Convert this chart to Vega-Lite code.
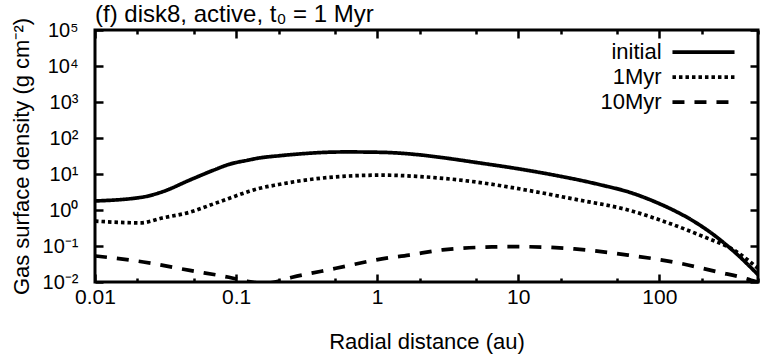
{
  "$schema": "https://vega.github.io/schema/vega-lite/v6.json",
  "width": 663,
  "height": 252,
  "autosize": "none",
  "padding": {"left": 95, "top": 30, "right": 3, "bottom": 74},
  "background": "white",
  "config": {
    "font": "Liberation Sans",
    "view": {"stroke": "black", "strokeWidth": 3},
    "axis": {"domain": false, "grid": false, "tickColor": "black", "tickWidth": 2.5, "labelColor": "black", "titleColor": "black", "labelFont": "Liberation Sans", "titleFont": "Liberation Sans", "labelFontSize": 21, "titleFontSize": 22, "titleFontWeight": "normal", "labelFlush": false, "labelOverlap": false}
  },
  "title": {"text": "(f) disk8, active, t₀ = 1 Myr", "anchor": "start", "frame": "group", "fontSize": 24, "fontWeight": "normal", "color": "black", "font": "Liberation Sans", "offset": 4, "dy": 14},
  "data": {"values": [
    {"t": "initial", "r": 0.01, "S": 1.78},
    {"t": "initial", "r": 0.022, "S": 2.3},
    {"t": "initial", "r": 0.03, "S": 3.2},
    {"t": "initial", "r": 0.047, "S": 6.8},
    {"t": "initial", "r": 0.07, "S": 13},
    {"t": "initial", "r": 0.089, "S": 18.5},
    {"t": "initial", "r": 0.12, "S": 24},
    {"t": "initial", "r": 0.147, "S": 28},
    {"t": "initial", "r": 0.2, "S": 32},
    {"t": "initial", "r": 0.28, "S": 36},
    {"t": "initial", "r": 0.4, "S": 39.5},
    {"t": "initial", "r": 0.6, "S": 41},
    {"t": "initial", "r": 1.08, "S": 40},
    {"t": "initial", "r": 2.0, "S": 34},
    {"t": "initial", "r": 3.0, "S": 28},
    {"t": "initial", "r": 5.0, "S": 21},
    {"t": "initial", "r": 11.3, "S": 12.9},
    {"t": "initial", "r": 20, "S": 8.6},
    {"t": "initial", "r": 27, "S": 6.8},
    {"t": "initial", "r": 40, "S": 4.8},
    {"t": "initial", "r": 60, "S": 3.2},
    {"t": "initial", "r": 98, "S": 1.55},
    {"t": "initial", "r": 125, "S": 1.0},
    {"t": "initial", "r": 160, "S": 0.6},
    {"t": "initial", "r": 233, "S": 0.23},
    {"t": "initial", "r": 347, "S": 0.064},
    {"t": "initial", "r": 500, "S": 0.016},
    {"t": "1Myr", "r": 0.01, "S": 0.49},
    {"t": "1Myr", "r": 0.021, "S": 0.44},
    {"t": "1Myr", "r": 0.03, "S": 0.6},
    {"t": "1Myr", "r": 0.047, "S": 0.87},
    {"t": "1Myr", "r": 0.07, "S": 1.5},
    {"t": "1Myr", "r": 0.089, "S": 2.1},
    {"t": "1Myr", "r": 0.124, "S": 3.3},
    {"t": "1Myr", "r": 0.147, "S": 4.0},
    {"t": "1Myr", "r": 0.2, "S": 5.1},
    {"t": "1Myr", "r": 0.28, "S": 6.4},
    {"t": "1Myr", "r": 0.63, "S": 8.8},
    {"t": "1Myr", "r": 1.08, "S": 9.3},
    {"t": "1Myr", "r": 1.9, "S": 8.6},
    {"t": "1Myr", "r": 5.0, "S": 6.0},
    {"t": "1Myr", "r": 11.3, "S": 3.6},
    {"t": "1Myr", "r": 25, "S": 2.0},
    {"t": "1Myr", "r": 60, "S": 1.0},
    {"t": "1Myr", "r": 115, "S": 0.44},
    {"t": "1Myr", "r": 200, "S": 0.19},
    {"t": "1Myr", "r": 347, "S": 0.072},
    {"t": "1Myr", "r": 500, "S": 0.024},
    {"t": "10Myr", "r": 0.01, "S": 0.053},
    {"t": "10Myr", "r": 0.022, "S": 0.036},
    {"t": "10Myr", "r": 0.047, "S": 0.021},
    {"t": "10Myr", "r": 0.089, "S": 0.0135},
    {"t": "10Myr", "r": 0.12, "S": 0.0105},
    {"t": "10Myr", "r": 0.15, "S": 0.0093},
    {"t": "10Myr", "r": 0.18, "S": 0.0097},
    {"t": "10Myr", "r": 0.25, "S": 0.0135},
    {"t": "10Myr", "r": 0.51, "S": 0.024},
    {"t": "10Myr", "r": 1.08, "S": 0.044},
    {"t": "10Myr", "r": 1.68, "S": 0.056},
    {"t": "10Myr", "r": 2.9, "S": 0.078},
    {"t": "10Myr", "r": 6.5, "S": 0.094},
    {"t": "10Myr", "r": 10, "S": 0.096},
    {"t": "10Myr", "r": 25, "S": 0.083},
    {"t": "10Myr", "r": 60, "S": 0.056},
    {"t": "10Myr", "r": 135, "S": 0.034},
    {"t": "10Myr", "r": 260, "S": 0.019},
    {"t": "10Myr", "r": 410, "S": 0.0125},
    {"t": "10Myr", "r": 500, "S": 0.0098}
  ]},
  "layer": [
    {
      "mark": {"type": "line", "stroke": "black", "strokeWidth": 3.7, "clip": true, "interpolate": "monotone", "strokeCap": "butt"},
      "encoding": {
        "x": {"field": "r", "type": "quantitative", "scale": {"type": "log", "domain": [0.01, 500], "nice": false},
          "axis": {"orient": "bottom", "title": "Radial distance (au)", "values": [0.01,0.02,0.05,0.1,0.2,0.5,1,2,5,10,20,50,100,200,500],
            "tickSize": {"condition": {"test": "abs(log(datum.value)/LN10 - round(log(datum.value)/LN10)) < 0.001", "value": -8}, "value": -4},
            "labelExpr": "abs(log(datum.value)/LN10 - round(log(datum.value)/LN10)) < 0.001 ? toString(datum.value) : ''",
            "labelPadding": 12, "titlePadding": 20}},
        "y": {"field": "S", "type": "quantitative", "scale": {"type": "log", "domain": [0.01, 100000], "nice": false},
          "axis": {"orient": "left", "title": "Gas surface density (g cm⁻²)", "values": [0.01,0.1,1,10,100,1000,10000,100000], "tickSize": -8, "labelFontSize": 20,
            "labelExpr": "['10⁻²','10⁻¹','10⁰','10¹','10²','10³','10⁴','10⁵'][round(log(datum.value)/LN10)+2]",
            "labelPadding": 25, "titlePadding": 9}},
        "strokeDash": {"field": "t", "type": "nominal", "scale": {"domain": ["initial", "1Myr", "10Myr"], "range": [[1, 0], [3.5, 3], [12, 10]]},
          "legend": {"orient": "none", "legendX": 596, "legendY": 9.6, "title": null, "symbolType": "M-3,0H3", "symbolSize": 428, "symbolStrokeWidth": 3.7, "symbolStrokeColor": "black", "symbolFillColor": "transparent", "labelAlign": "right", "labelOffset": -54.4, "labelFontSize": 22, "labelFont": "Liberation Sans", "labelColor": "black", "rowPadding": 1}}
      }
    },
    {
      "mark": {"type": "line", "opacity": 0},
      "encoding": {
        "x": {"field": "r", "type": "quantitative",
          "axis": {"orient": "top", "title": null, "labels": false, "values": [0.01,0.02,0.05,0.1,0.2,0.5,1,2,5,10,20,50,100,200,500],
            "tickSize": {"condition": {"test": "abs(log(datum.value)/LN10 - round(log(datum.value)/LN10)) < 0.001", "value": -8}, "value": -4}}},
        "y": {"field": "S", "type": "quantitative",
          "axis": {"orient": "right", "title": null, "labels": false, "values": [0.01,0.1,1,10,100,1000,10000,100000], "tickSize": -8}},
        "detail": {"field": "t"}
      }
    }
  ],
  "resolve": {"axis": {"x": "independent", "y": "independent"}}
}
